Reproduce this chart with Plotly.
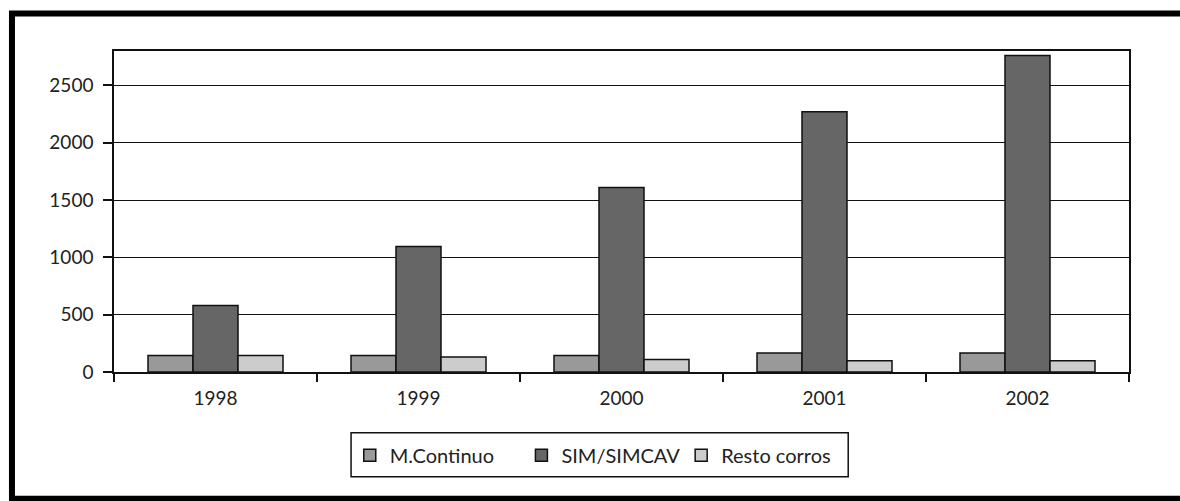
import plotly.graph_objects as go

years = ["1998", "1999", "2000", "2001", "2002"]
m_continuo = [145, 145, 145, 165, 165]
sim_simcav = [580, 1095, 1610, 2270, 2760]
resto_corros = [145, 130, 110, 98, 98]

series_names = ["M.Continuo", "SIM/SIMCAV", "Resto corros"]
series_colors = ["#999999", "#666666", "#cccccc"]
y_ticks = [0, 500, 1000, 1500, 2000, 2500]

W, H = 1180, 501
L, R, T, B = 114, 1128.7, 51, 372.5

def px_x(px):
    return (px - L) / (R - L)

def px_y(py):
    return (B - py) / (B - T)

font_family = "Lato, 'Open Sans', sans-serif"
FS = 19
LFS = 20

legend_ids = ["legend", "legend2", "legend3"]
legend_square_centers = [369.7, 541.3, 701.0]

fig = go.Figure()
for name, vals, col, lid in zip(series_names, [m_continuo, sim_simcav, resto_corros], series_colors, legend_ids):
    fig.add_trace(go.Bar(
        x=years, y=vals, name=name, legend=lid,
        marker=dict(color=col, line=dict(color="#111111", width=1.5)),
    ))

legend_layout = {}
for lid, cx in zip(legend_ids, legend_square_centers):
    legend_layout[lid] = dict(
        orientation="h",
        x=px_x(cx - 20), xanchor="left",
        y=px_y(456), yanchor="middle",
        borderwidth=0,
        bgcolor="rgba(0,0,0,0)",
        font=dict(family=font_family, size=LFS, color="#222222"),
    )

fig.update_layout(
    width=W, height=H,
    margin=dict(l=L, r=W - R, t=T, b=H - B, pad=0),
    paper_bgcolor="white",
    plot_bgcolor="white",
    barmode="group",
    bargap=0.335,
    bargroupgap=0,
    font=dict(family=font_family, size=FS, color="#222222"),
    showlegend=True,
    xaxis=dict(
        type="category",
        showline=True, linecolor="#111111", linewidth=1.5,
        mirror=True,
        ticks="outside", tickson="boundaries", ticklen=8, tickwidth=1.5, tickcolor="#111111",
        ticklabelstandoff=8,
        showgrid=False,
        tickfont=dict(family=font_family, size=FS, color="#222222"),
    ),
    yaxis=dict(
        range=[0, 2800],
        tickvals=y_ticks,
        showline=True, linecolor="#111111", linewidth=1.5,
        mirror=True,
        ticks="outside", ticklen=9, tickwidth=1.5, tickcolor="#111111",
        ticklabelstandoff=6,
        showgrid=True, gridcolor="#111111", gridwidth=1.2,
        zeroline=False,
        tickfont=dict(family=font_family, size=FS, color="#222222"),
    ),
    shapes=[
        dict(
            type="rect", xref="paper", yref="paper",
            x0=px_x(12), x1=px_x(1184), y0=px_y(13.5), y1=px_y(499.5),
            line=dict(color="black", width=6), fillcolor="rgba(0,0,0,0)",
            layer="above",
        ),
        dict(
            type="rect", xref="paper", yref="paper",
            x0=px_x(351), x1=px_x(848), y0=px_y(433.3), y1=px_y(477.3),
            line=dict(color="#111111", width=1.5), fillcolor="white",
            layer="below",
        ),
    ],
    **legend_layout,
)

fig.write_html("out.html", config={"displayModeBar": False},
               post_script="document.body.style.margin='0';")
